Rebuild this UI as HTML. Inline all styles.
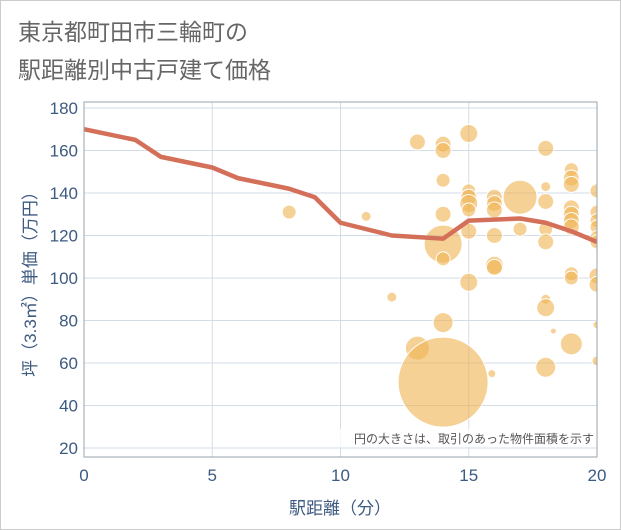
<!DOCTYPE html>
<html><head><meta charset="utf-8"><style>
body{margin:0;background:#fff;}
svg{display:block;font-family:"Liberation Sans","Noto Sans CJK JP",sans-serif;}
</style></head><body>
<svg width="621" height="530" id="c">
<rect x="0.5" y="0.5" width="620" height="529" fill="#fff" stroke="#ccc"/>
<text x="18" y="40" font-size="23" fill="#666">東京都町田市三輪町の</text>
<text x="18" y="78" font-size="23" fill="#666">駅距離別中古戸建て価格</text>
<g id="grid"></g>
<defs><clipPath id="clip"><rect x="84" y="102" width="513" height="355"/></clipPath></defs>
<g id="bubbles" clip-path="url(#clip)"></g>
<g id="line" clip-path="url(#clip)"></g>
<rect x="84" y="102" width="513" height="355" fill="none" stroke="#9aa3ad"/>
<rect x="318" y="429" width="277" height="18" fill="#fff" fill-opacity="0.8"/>
<text x="594" y="443" font-size="12" fill="#555" text-anchor="end">円の大きさは、取引のあった物件面積を示す</text>
<g id="axes"></g>
<text x="340" y="514" font-size="17" fill="#3d5a80" text-anchor="middle">駅距離（分）</text>
<text transform="translate(36,280) rotate(-90)" font-size="17" fill="#3d5a80" text-anchor="middle">坪（3.3㎡）単価（万円）</text>
</svg>
<script>
const xTicks=[0,5,10,15,20];
const yTicks=[20,40,60,80,100,120,140,160,180];
const bx=[8,11,12,13,13,14,14,14,14,14,14,14,14,15,15,15,15,15,15,15,15.9,16,16,16,16,16,16,17,17,18,18,18,18,18,18,18,18,18.3,19,19,19,19,19,19,19,19,19,19,20,20,20,20,20,20,20,20,20,20];
const by=[131,129,91,164,67,163,160,146,130,116,109,79,51,168,141,138,135,132,122,98,55,138,135,132,120,106,105,138,123,161,143,136,123,117,90,86,58,75,151,147,144,133,130,127,124,102,100,69,141,131,127,124,119,117,101,97,78,61];
const br=[7,5,5,8,12,8,8,7,8,19,7,10,45,9,7,8,9,7,8,9,4,8,8,8,8,9,8,17,7,8,5,8,7,8,5,9,10,3,7,8,8,8,8,8,8,7,7,11,7,7,7,7,7,7,8,8,4,5];
const lx=[0,2,3,5,6,8,9,10,11,12,14,15,17,18,19,20];
const ly=[170,165,157,152,147,142,138,126,123,120,118.5,127,128,126,122,117];
const X=v=>84+v*25.65, Y=v=>108+(180-v)*2.125;
const NS="http://www.w3.org/2000/svg";
function mk(t,a,p){const e=document.createElementNS(NS,t);for(const k in a)e.setAttribute(k,a[k]);p.appendChild(e);return e;}
const g=document.getElementById('grid'),ax=document.getElementById('axes');
yTicks.forEach(v=>{const l=mk('line',{x1:84,x2:597,y1:Y(v),y2:Y(v),stroke:'#d3dde8'},g);

const t=mk('text',{x:78,y:Y(v)+6,'font-size':17,fill:'#3d5a80','text-anchor':'end'},ax);t.textContent=v;
});
xTicks.forEach(v=>{const l=mk('line',{x1:X(v),x2:X(v),y1:102,y2:457,stroke:'#d3dde8'},g);

const t=mk('text',{x:X(v),y:481,'font-size':17,fill:'#3d5a80','text-anchor':'middle'},ax);t.textContent=v;
});
const bg=document.getElementById('bubbles');
bx.forEach((v,i)=>{const c=mk('circle',{cx:X(v),cy:Y(by[i]),r:br[i],fill:'rgba(240,178,80,0.6)',stroke:'#fff','stroke-width':1},bg);
});
const p=mk('polyline',{points:lx.map((v,i)=>X(v)+','+Y(ly[i])).join(' '),fill:'none',stroke:'#d4705a','stroke-width':4.5,'stroke-linejoin':'round'},document.getElementById('line'));

</script>
</body></html>
